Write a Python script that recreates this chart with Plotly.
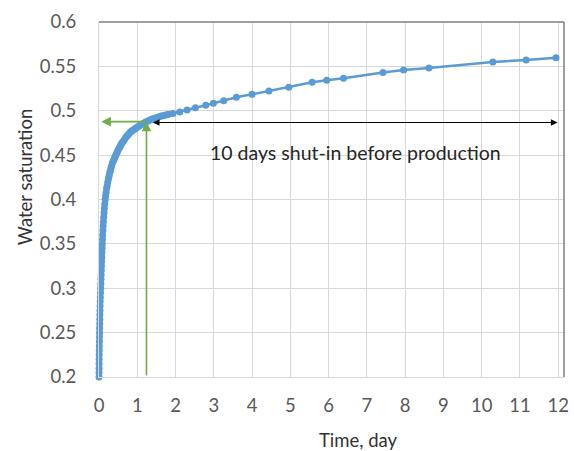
import plotly.graph_objects as go

# ---- data ----
time_day = [0.000, 0.001, 0.002, 0.003, 0.004, 0.005, 0.007, 0.008, 0.010, 0.012,
            0.014, 0.016, 0.018, 0.020, 0.023, 0.026, 0.029, 0.032, 0.036, 0.040,
            0.044, 0.048, 0.052, 0.056, 0.060, 0.064, 0.068, 0.072, 0.077, 0.081,
            0.086, 0.091, 0.096, 0.102, 0.108, 0.115, 0.122, 0.131, 0.140, 0.150,
            0.162, 0.173, 0.185, 0.197, 0.21, 0.225, 0.24, 0.255, 0.27, 0.285,
            0.30, 0.315, 0.33, 0.35, 0.37, 0.39, 0.41, 0.43, 0.45, 0.47,
            0.49, 0.515, 0.54, 0.565, 0.59, 0.615, 0.64, 0.67, 0.70, 0.73,
            0.76, 0.79, 0.82, 0.85, 0.88, 0.915, 0.95, 0.985, 1.02, 1.055,
            1.09, 1.13, 1.17, 1.21, 1.25, 1.29, 1.33, 1.375, 1.42, 1.47,
            1.52, 1.57, 1.62, 1.67, 1.72, 1.77, 1.82, 1.93,
            2.11, 2.30, 2.52, 2.79, 2.99, 3.26, 3.59, 4.00, 4.44, 4.96,
            5.57, 5.95, 6.39, 7.42, 7.96, 8.62, 10.29, 11.16, 11.94]
water_sat = [0.200, 0.205, 0.210, 0.215, 0.220, 0.225, 0.230, 0.235, 0.240, 0.245,
             0.250, 0.255, 0.260, 0.265, 0.270, 0.275, 0.280, 0.285, 0.290, 0.295,
             0.300, 0.305, 0.310, 0.315, 0.320, 0.325, 0.330, 0.335, 0.340, 0.345,
             0.350, 0.355, 0.360, 0.365, 0.370, 0.375, 0.380, 0.385, 0.390, 0.395,
             0.400, 0.404, 0.408, 0.412, 0.415, 0.419, 0.422, 0.425, 0.428, 0.431,
             0.433, 0.436, 0.438, 0.441, 0.443, 0.445, 0.447, 0.449, 0.451, 0.453,
             0.455, 0.457, 0.459, 0.461, 0.463, 0.4645, 0.466, 0.468, 0.470, 0.4715,
             0.473, 0.4745, 0.476, 0.477, 0.478, 0.479, 0.480, 0.481, 0.482, 0.483,
             0.484, 0.485, 0.486, 0.487, 0.488, 0.4888, 0.4895, 0.4903, 0.491, 0.4918,
             0.4925, 0.4933, 0.494, 0.4945, 0.495, 0.4955, 0.496, 0.497,
             0.4986, 0.5008, 0.5034, 0.5062, 0.5084, 0.5113, 0.5152, 0.5185, 0.5222, 0.5265,
             0.532, 0.5343, 0.5366, 0.543, 0.546, 0.5482, 0.5549, 0.5572, 0.5598]

x_ticks = list(range(0, 13))
x_tick_labels = [str(v) for v in x_ticks]
y_ticks = [0.2, 0.25, 0.3, 0.35, 0.4, 0.45, 0.5, 0.55, 0.6]
y_tick_labels = ["0.2", "0.25", "0.3", "0.35", "0.4", "0.45", "0.5", "0.55", "0.6"]
x_title = "Time, day"
y_title = "Water saturation"

shutin_time = 1.24        # time where green guide meets curve
shutin_sat = 0.4877       # saturation at that time
arrow_start_t = 1.37      # black arrow left end
arrow_end_t = 11.98       # black arrow right end
annotation_text = "10 days shut-in before production"

BLUE = "#5B9BD5"
GREEN = "#70AD47"
TXT = "#595959"
DARK = "#333333"
GRID = "#D9D9D9"
FONT = "Lato, 'Open Sans', sans-serif"

fig = go.Figure()
fig.add_trace(go.Scatter(
    x=time_day, y=water_sat, mode="lines+markers",
    line=dict(color=BLUE, width=2.5),
    marker=dict(color=BLUE, size=7),
    showlegend=False, cliponaxis=False,
))

# green guides
fig.add_annotation(x=0.06, y=shutin_sat, ax=shutin_time, ay=shutin_sat,
                   xref="x", yref="y", axref="x", ayref="y", text="",
                   showarrow=True, arrowhead=2, arrowsize=1.2, arrowwidth=1.6,
                   arrowcolor=GREEN)
fig.add_annotation(x=shutin_time, y=shutin_sat, ax=shutin_time, ay=0.2,
                   xref="x", yref="y", axref="x", ayref="y", text="",
                   showarrow=True, arrowhead=2, arrowsize=1.2, arrowwidth=1.6,
                   arrowcolor=GREEN)
# black double arrow
fig.add_annotation(x=arrow_end_t, y=shutin_sat - 0.001, ax=arrow_start_t, ay=shutin_sat - 0.001,
                   xref="x", yref="y", axref="x", ayref="y", text="",
                   showarrow=True, arrowhead=2, startarrowhead=2, arrowside="end+start",
                   arrowsize=1.2, startarrowsize=1.2, arrowwidth=1.1, arrowcolor="#000000")
fig.add_annotation(x=6.7, y=0.4535, xref="x", yref="y", text=annotation_text,
                   showarrow=False, font=dict(family=FONT, size=19.5, color="#262626"))

# axis titles (offset as in the reference)
fig.add_annotation(x=0.557, y=-0.177, xref="paper", yref="paper", text=x_title,
                   showarrow=False, xanchor="center", yanchor="middle",
                   font=dict(family=FONT, size=18.5, color=DARK))
fig.add_annotation(x=-0.159, y=0.563, xref="paper", yref="paper", text=y_title,
                   showarrow=False, textangle=-90, xanchor="center", yanchor="middle",
                   font=dict(family=FONT, size=18.5, color=DARK))

# dark top/right border
fig.add_shape(type="line", xref="paper", yref="paper", x0=0, x1=1, y0=1, y1=1,
              line=dict(color="#808080", width=1.5))
fig.add_shape(type="line", xref="paper", yref="paper", x0=1, x1=1, y0=0, y1=1,
              line=dict(color="#808080", width=1.5))

fig.update_layout(
    width=574, height=451,
    margin=dict(l=99, r=10, t=22, b=74),
    paper_bgcolor="white", plot_bgcolor="white",
    font=dict(family=FONT, size=19, color=TXT),
    xaxis=dict(range=[0, 12.15], tickvals=x_ticks, ticktext=x_tick_labels,
               showgrid=True, gridcolor=GRID, gridwidth=1, zeroline=False,
               showline=True, linecolor=GRID, ticks="", ticklabelstandoff=12,
               tickfont=dict(size=18.5, color=TXT), automargin=False),
    yaxis=dict(range=[0.2, 0.6], tickvals=y_ticks, ticktext=y_tick_labels,
               showgrid=True, gridcolor=GRID, gridwidth=1, zeroline=False,
               showline=True, linecolor=GRID, ticks="", ticklabelstandoff=18,
               tickfont=dict(size=18.5, color=TXT), automargin=False),
)

fig.write_html("out.html")
